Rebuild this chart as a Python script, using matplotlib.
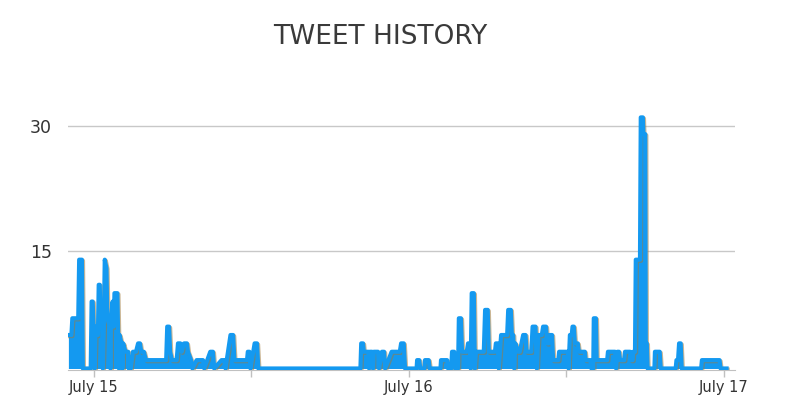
import matplotlib
matplotlib.use("Agg")
import matplotlib.pyplot as plt
import matplotlib.patheffects as pe

# hours since July 15 00:00, tweet count at that moment
hours = [
    -1.95, -1.72, -1.65, -1.2, -1.13, -0.92, -0.85, -0.25, -0.18, -0.1,
    -0.03, 0.05, 0.12, 0.3, 0.36, 0.44, 0.5, 0.62, 0.67, 0.74,
    0.82, 0.95, 1.02, 1.2, 1.25, 1.3, 1.42, 1.5, 1.56, 1.78,
    1.84, 1.9, 1.95, 2.1, 2.17, 2.22, 2.4, 2.6, 2.65, 2.72,
    2.8, 2.97, 3.2, 3.36, 3.5, 3.6, 3.8, 3.96, 5.5, 5.58,
    5.72, 5.8, 5.94, 6.3, 6.4, 6.58, 6.68, 6.86, 7.08, 7.16,
    7.4, 7.5, 7.82, 8.3, 8.4, 8.86, 9.06, 9.16, 9.72, 9.92,
    10.02, 10.4, 10.6, 10.7, 11.66, 11.72, 11.84, 11.92, 12.24, 12.42,
    12.52,
    # July 16
    20.3, 20.36, 20.5, 20.56, 20.9, 20.96, 21.02, 21.18, 21.26, 21.32,
    21.64, 21.72, 21.94, 22.1, 22.18, 22.68, 23.3, 23.4, 23.6, 23.7,
    24.58, 24.62, 24.78, 24.86, 25.18, 25.22, 25.5, 25.58, 26.4, 26.44,
    26.9, 26.98, 27.22, 27.28, 27.44, 27.52, 27.74, 27.8, 27.96, 28.04,
    28.4, 28.5, 28.62, 28.7, 28.78, 28.94, 29.02, 29.1, 29.7, 29.8,
    30.0, 30.08, 30.55, 30.62, 30.76, 30.84, 31.02, 31.48, 31.56, 31.76,
    31.84, 31.94, 32.02, 32.1, 32.3, 32.44, 32.7, 32.88, 32.96, 33.32,
    33.42, 33.64, 33.74, 33.86, 34.12, 34.22, 34.44, 34.52, 34.64, 34.7,
    34.9, 34.98, 35.38, 35.44, 36.1, 36.16, 36.26, 36.4, 36.46, 36.56,
    36.64, 36.86, 36.94, 37.4, 37.46, 37.82, 37.9, 38.04, 38.08, 38.24,
    38.3, 39.1, 39.16, 39.7, 39.78, 39.88, 40.0, 40.08, 40.4, 40.46,
    40.84, 40.92, 41.04, 41.08, 41.22, 41.28, 41.6, 41.66, 41.82, 41.86,
    42.0, 42.04, 42.12, 42.18, 42.7, 42.74, 43.1, 43.18, 44.32, 44.38,
    44.5, 44.58, 44.7, 44.78, 46.26, 46.32, 47.66, 47.74, 48.2,
]
tweets = [
    5, 5, 7, 7, 14, 14, 1, 1, 9, 9,
    6, 1, 6, 5, 11, 11, 6, 6, 1, 5,
    14, 13, 7, 6, 1, 7, 9, 6, 10, 10,
    5, 1, 5, 4, 1, 4, 3, 3, 1, 2,
    1, 3, 3, 4, 4, 3, 3, 2, 2, 6,
    6, 3, 2, 2, 4, 4, 3, 4, 4, 3,
    2, 1, 2, 2, 1, 3, 3, 1, 2, 2,
    1, 5, 5, 2, 2, 3, 3, 1, 4, 4,
    1,
    1, 4, 4, 3, 3, 1, 3, 3, 1, 3,
    3, 1, 3, 3, 1, 3, 3, 4, 4, 1,
    1, 2, 2, 1, 1, 2, 2, 1, 1, 2,
    2, 1, 1, 3, 3, 1, 1, 7, 7, 3,
    3, 4, 4, 1, 10, 10, 1, 3, 3, 8,
    8, 3, 3, 4, 4, 1, 5, 5, 8, 8,
    5, 5, 1, 4, 3, 3, 5, 5, 3, 3,
    6, 6, 1, 5, 5, 6, 6, 4, 4, 5,
    5, 2, 2, 3, 3, 1, 5, 5, 6, 6,
    4, 4, 3, 3, 2, 2, 1, 1, 7, 7,
    2, 2, 3, 3, 1, 3, 3, 2, 2, 3,
    3, 2, 2, 3, 3, 14, 14, 31, 31, 29,
    29, 4, 4, 1, 1, 3, 3, 1, 1, 2,
    2, 4, 4, 1, 1, 2, 2, 1, 1,
]

tick_hours = [0, 12, 24, 36, 48]
tick_labels = ["July 15", "", "July 16", "", "July 17"]
y_ticks = [15, 30]

blue = "#1499f0"

fig = plt.figure(figsize=(8, 4.01), dpi=100)
ax = fig.add_axes([68 / 800, 31 / 401, 667 / 800, 270 / 401])

# dense per-minute data in the original renders as solid blue under the curve
ax.fill_between(hours, tweets, 1, color=blue, linewidth=0, zorder=2)
ax.plot(hours, tweets, color=blue, linewidth=3.0, solid_joinstyle="round",
        path_effects=[pe.SimpleLineShadow(offset=(0.8, -0.8), shadow_color="#a07a3c", alpha=0.55),
                      pe.Normal()], zorder=3)

ax.set_xlim(-1.98, 48.84)
ax.set_ylim(0.82, 33.08)

ax.set_yticks(y_ticks)
ax.set_yticklabels([str(v) for v in y_ticks], fontsize=12.5, color="#333333")
ax.tick_params(axis="y", length=0, pad=11.5)
ax.grid(axis="y", color="#c8c8c8", linewidth=1)
ax.set_axisbelow(True)

ax.set_xticks(tick_hours)
ax.set_xticklabels(tick_labels, fontsize=10.5, color="#333333")
ax.tick_params(axis="x", length=5, color="#c0c0c0", width=1, pad=2)

for s in ["top", "right", "left"]:
    ax.spines[s].set_visible(False)
ax.spines["bottom"].set_color("#c0c0c0")

fig.text(0.475, 0.908, "TWEET HISTORY", ha="center", va="center",
         fontsize=19, color="#3a3a3a")

fig.savefig("out.png", dpi=100)
